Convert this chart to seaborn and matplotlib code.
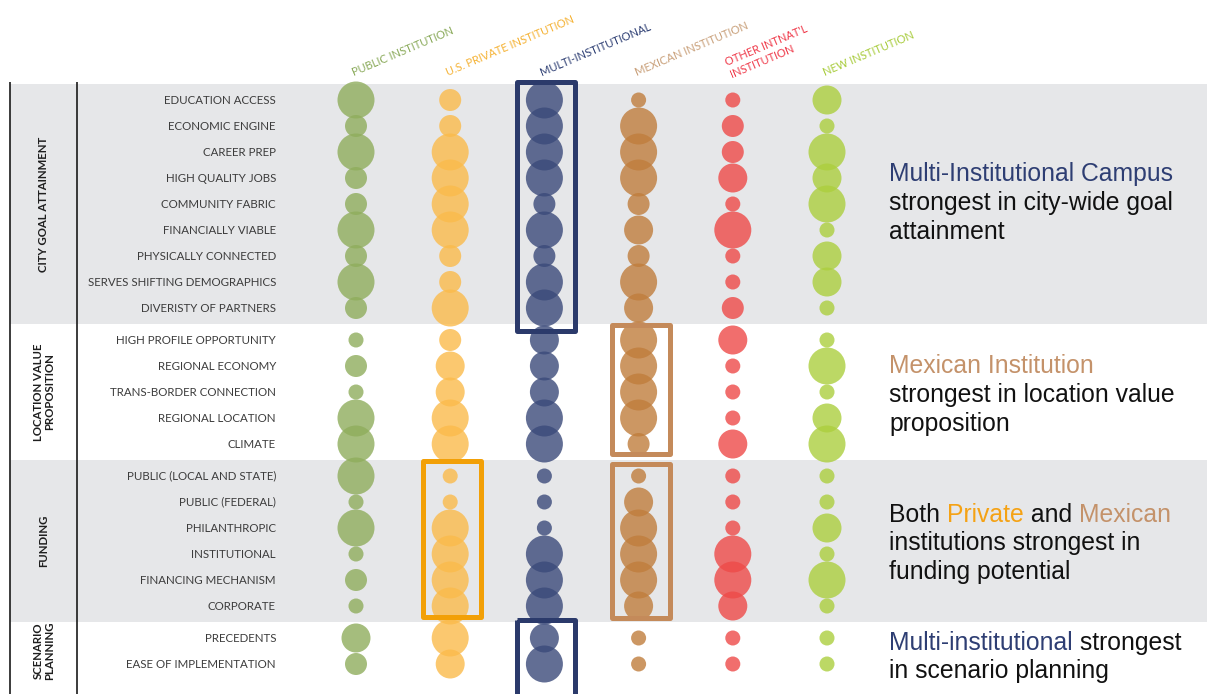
import numpy as np
import pandas as pd
import matplotlib
matplotlib.use("Agg")
import matplotlib.pyplot as plt
import seaborn as sns
from matplotlib.patches import Rectangle

# ---------------- data ----------------
institutions = ["PUBLIC INSTITUTION", "U.S. PRIVATE INSTITUTION", "MULTI-INSTITUTIONAL",
                "MEXICAN INSTITUTION", "OTHER INTNAT'L\nINSTITUTION", "NEW INSTITUTION"]
groups = ["CITY GOAL ATTAINMENT", "LOCATION VALUE\nPROPOSITION", "FUNDING", "SCENARIO\nPLANNING"]
criteria = ["EDUCATION ACCESS", "ECONOMIC ENGINE", "CAREER PREP", "HIGH QUALITY JOBS",
            "COMMUNITY FABRIC", "FINANCIALLY VIABLE", "PHYSICALLY CONNECTED",
            "SERVES SHIFTING DEMOGRAPHICS", "DIVERISTY OF PARTNERS",
            "HIGH PROFILE OPPORTUNITY", "REGIONAL ECONOMY", "TRANS-BORDER CONNECTION",
            "REGIONAL LOCATION", "CLIMATE",
            "PUBLIC (LOCAL AND STATE)", "PUBLIC (FEDERAL)", "PHILANTHROPIC", "INSTITUTIONAL",
            "FINANCING MECHANISM", "CORPORATE",
            "PRECEDENTS", "EASE OF IMPLEMENTATION"]
criteria_group = [0] * 9 + [1] * 5 + [2] * 6 + [3] * 2

# strength score (1 = weak ... 4 = strong)
public_inst  = [4, 2, 4, 2, 2, 4, 2, 4, 2,  1, 2, 1, 4, 4,  4, 1, 4, 1, 2, 1,  3, 2]
private_inst = [2, 2, 4, 4, 4, 4, 2, 2, 4,  2, 3, 3, 4, 4,  1, 1, 4, 4, 4, 4,  4, 3]
multi_inst   = [4, 4, 4, 4, 2, 4, 2, 4, 4,  3, 3, 3, 4, 4,  1, 1, 1, 4, 4, 4,  3, 4]
mexican_inst = [1, 4, 4, 4, 2, 3, 2, 4, 3,  4, 4, 4, 4, 2,  1, 3, 4, 4, 4, 3,  1, 1]
other_inst   = [1, 2, 2, 3, 1, 4, 1, 1, 2,  3, 1, 1, 1, 3,  1, 1, 1, 4, 4, 3,  1, 1]
new_inst     = [3, 1, 4, 3, 4, 1, 3, 3, 1,  1, 4, 1, 3, 4,  1, 1, 3, 1, 4, 1,  1, 1]
scores = [public_inst, private_inst, multi_inst, mexican_inst, other_inst, new_inst]

# ---------------- styles ----------------
bubble_colors = ["#8fad5c", "#fbbb4b", "#3b4a7a", "#c07d3c", "#ee4a48", "#accf3e"]
header_colors = ["#8aaa5a", "#f5b234", "#2d3e73", "#c9a07a", "#ef3a4a", "#a8cc3c"]
size_map = {1: 117, 2: 251, 3: 436, 4: 710}
GAP = 6 / 26.0  # extra gap between groups (row units)

# layout helpers: pixel -> data units (axes spans the whole figure)
X0, XS, Y0, YS = 356.0, 94.2, 100.0, 26.0
W, H = 1207, 694
def px_x(p): return (p - X0) / XS
def px_y(p): return (p - Y0) / YS

ypos = [i + g * GAP for i, g in enumerate(criteria_group)]

rows = []
for ci, inst in enumerate(institutions):
    for ri, crit in enumerate(criteria):
        rows.append({"inst": inst, "x": ci, "y": ypos[ri], "score": scores[ci][ri]})
df = pd.DataFrame(rows)

sns.set_theme(style="white")
plt.rcParams["font.family"] = ["Lato", "DejaVu Sans"]

fig = plt.figure(figsize=(W / 100, H / 100), dpi=100)
ax = fig.add_axes([0, 0, 1, 1])
ax.set_xlim(px_x(0), px_x(W))
ax.set_ylim(px_y(H), px_y(0))
ax.axis("off")

# group bands
for g in range(len(groups)):
    idx = [i for i, gg in enumerate(criteria_group) if gg == g]
    top = ypos[idx[0]] - 0.5 - GAP / 2
    bot = ypos[idx[-1]] + 0.5 + GAP / 2
    if g == len(groups) - 1:
        bot = px_y(H + 5)
    if g % 2 == 0:
        ax.add_patch(Rectangle((px_x(10), top), px_x(W + 5) - px_x(10), bot - top,
                               facecolor="#e6e7e9", edgecolor="none", zorder=0))
    mid = (ypos[idx[0]] + ypos[idx[-1]]) / 2
    ax.text(px_x(44), mid, groups[g], rotation=90, ha="center", va="center",
            fontsize=8.2, fontweight="bold", color="#1e1e1e", linespacing=1.0)

# vertical rules
for xp in (10, 77):
    ax.plot([px_x(xp), px_x(xp)], [px_y(82), px_y(H + 5)], color="#1a1a1a", lw=1.2,
            solid_capstyle="butt", zorder=1)

# row labels
for ri, crit in enumerate(criteria):
    ax.text(px_x(276), ypos[ri], crit, ha="right", va="center", fontsize=8.3,
            color="#3c3c3c")

# bubbles
sns.scatterplot(data=df, x="x", y="y", hue="inst", size="score", sizes=size_map,
                hue_order=institutions, palette=dict(zip(institutions, bubble_colors)),
                alpha=0.8, linewidth=0, edgecolor="none", legend=False, ax=ax, zorder=3)
ax.set_xlabel("")
ax.set_ylabel("")

# column headers
for ci, inst in enumerate(institutions):
    ax.text(ci - 2 / XS, px_y(76), inst, rotation=23, rotation_mode="anchor",
            ha="left", va="baseline", fontsize=8.0, color=header_colors[ci],
            multialignment="left", linespacing=1.2)

# highlight boxes: (column, first row, last row, colour, top pad px, bottom pad px)
boxes = [(2, 0, 8, "#2b3a6b", 18, 23),
         (2, 20, 21, "#2b3a6b", 18, 45),
         (3, 9, 13, "#c48a5a", 15, 10),
         (3, 14, 19, "#c48a5a", 12, 12),
         (1, 14, 19, "#f2a007", 15, 11)]
for col, r0, r1, c, pt, pb in boxes:
    half = 29 / XS
    top = ypos[r0] - pt / YS
    bot = ypos[r1] + pb / YS
    ax.add_patch(Rectangle((col - half + 2 / XS, top), 2 * half, bot - top, facecolor="none",
                           edgecolor=c, lw=3.6, joinstyle="round", zorder=5))

# right-side annotations
ANN = dict(fontsize=17.8, family=["Liberation Sans", "DejaVu Sans"])
NAVY, TAN, ORANGE, BLACK = "#2e3e73", "#c4926a", "#f5a214", "#111111"

def line(y_px, parts):
    t = ax.text(px_x(889), px_y(y_px), parts[0][0], color=parts[0][1], va="center",
                ha="left", **ANN)
    for txt, col in parts[1:]:
        t = ax.annotate(txt, xy=(1, 0), xycoords=t, va="bottom", ha="left",
                        color=col, **ANN)

line(174, [("Multi-Institutional Campus", NAVY)])
line(203, [("strongest in city-wide goal", BLACK)])
line(232, [("attainment", BLACK)])
line(366, [("Mexican Institution", TAN)])
line(395, [("strongest in location value", BLACK)])
line(424, [("proposition", BLACK)])
line(515, [("Both ", BLACK), ("Private", ORANGE), (" and ", BLACK), ("Mexican", TAN)])
line(543, [("institutions strongest in", BLACK)])
line(572, [("funding potential", BLACK)])
line(643, [("Multi-institutional", NAVY), (" strongest", BLACK)])
line(671, [("in scenario planning", BLACK)])

fig.savefig("out.png", dpi=100)
